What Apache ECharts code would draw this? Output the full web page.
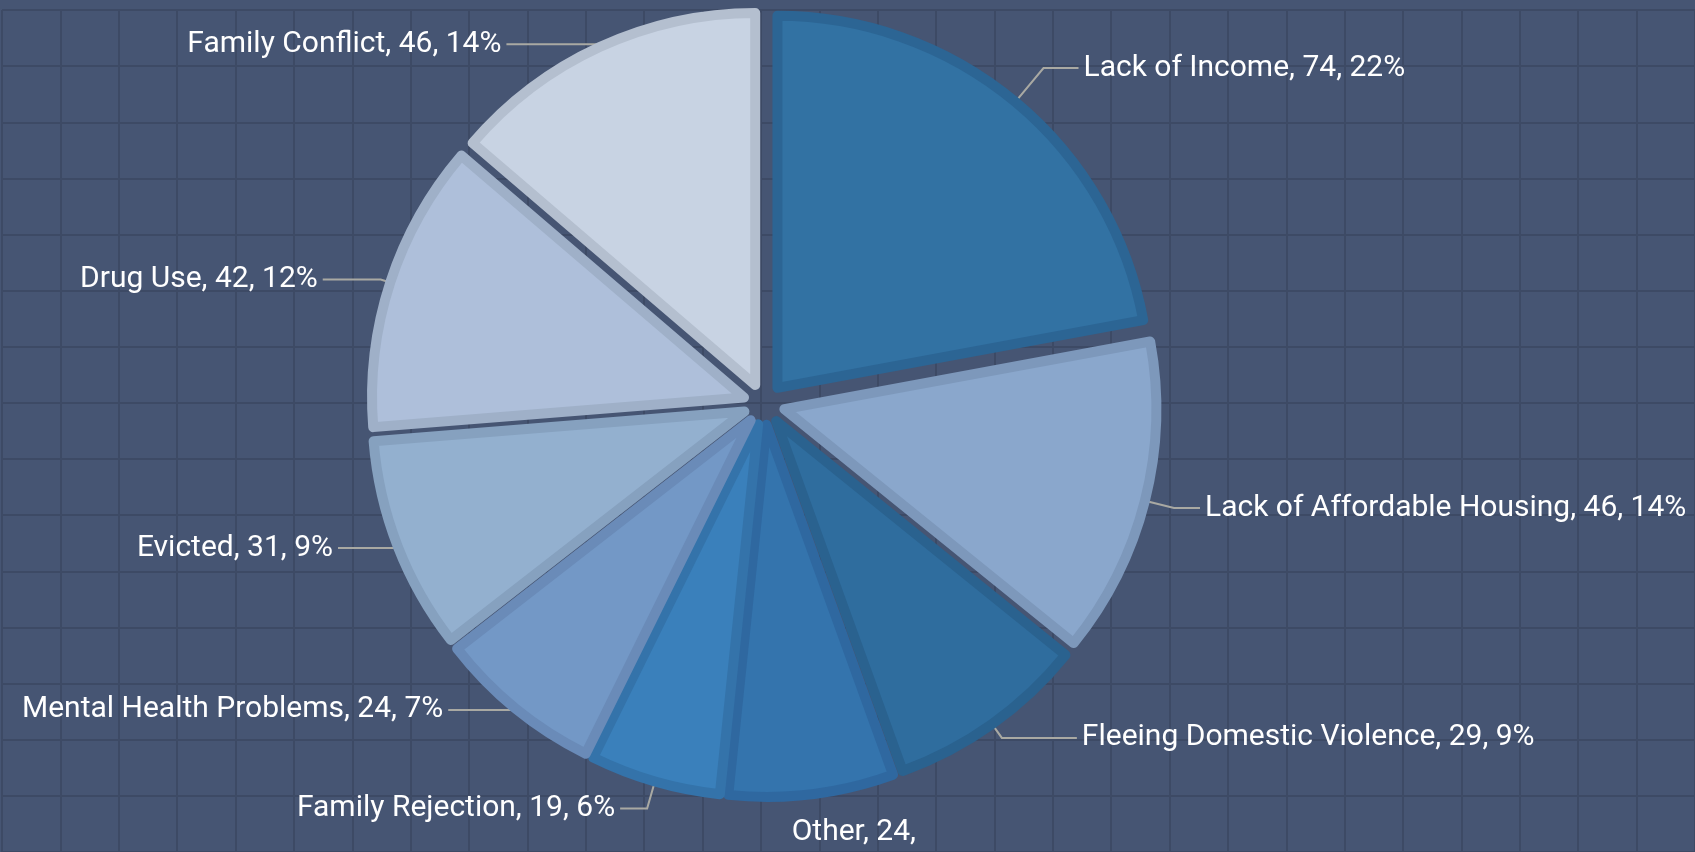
<!DOCTYPE html>
<html>
<head>
<meta charset="utf-8">
<script src="https://cdn.jsdelivr.net/npm/echarts@6/dist/echarts.min.js"></script>
<style>
html,body{margin:0;padding:0;background:#465573;}
#c{width:1695px;height:852px;}
</style>
</head>
<body>
<div id="c"></div>
<script>
// data
const categories = ['Lack of Income','Lack of Affordable Housing','Fleeing Domestic Violence','Other','Family Rejection','Mental Health Problems','Evicted','Drug Use','Family Conflict'];
const values = [74, 46, 29, 24, 19, 24, 31, 42, 46];

// styles (kept separate from data)
const fillColors = ['#3272a3','#8aa7cc','#2f6d9e','#3474ad','#3a80bb','#7398c6','#93b0cf','#aebfda','#c8d3e3'];
const edgeColors = ['#2c6594','#7d98bb','#2a628f','#2f68a0','#3473aa','#6a8bb8','#86a1bf','#9fb0c8','#b4bfcf'];
const guideLen1 = [44, 30, 17, 57, 28, 2, 5, 10, 3];
const guideLen2 = [35, 26, 75, -32, 27, 66, 55, 58, 92];

const chart = echarts.init(document.getElementById('c'), null, {renderer:'canvas'});
const data = categories.map((name, i) => {
  const item = {
    name: name,
    value: values[i],
    selected: true,
    itemStyle: {color: fillColors[i], borderColor: edgeColors[i]},
    labelLine: {length: guideLen1[i], length2: guideLen2[i]}
  };
  if (name === 'Other') {
    item.label = {width: 150, overflow: 'break', lineHeight: 36};
    item.labelLine.show = false;
  }
  return item;
});

chart.setOption({
  backgroundColor: '#465573',
  animation: false,
  grid: {left: 2, top: 10, width: 1695, height: 852},
  xAxis: {type:'value', min:0, max:29, interval:1, axisLine:{show:false}, axisTick:{show:false}, axisLabel:{show:false},
    splitLine:{show:true, lineStyle:{color:'#3d4a65', width:2}}},
  yAxis: {type:'value', min:0, max:15, interval:1, axisLine:{show:false}, axisTick:{show:false}, axisLabel:{show:false},
    splitLine:{show:true, lineStyle:{color:'#3d4a65', width:2}}},
  series: [{
    type: 'pie',
    center: [764, 404],
    radius: 372,
    startAngle: 90,
    clockwise: true,
    percentPrecision: 0,
    selectedMode: 'multiple',
    selectedOffset: 21,
    avoidLabelOverlap: false,
    itemStyle: {borderWidth: 10},
    emphasis: {disabled: true},
    label: {
      show: true,
      color: '#ffffff',
      fontFamily: 'Roboto, "Liberation Sans", sans-serif',
      fontSize: 30,
      overflow: 'none',
      formatter: '{b}, {c}, {d}%'
    },
    labelLine: {
      show: true,
      lineStyle: {color: '#a9a9a3', width: 2}
    },
    data: data
  }]
});
</script>
</body>
</html>
